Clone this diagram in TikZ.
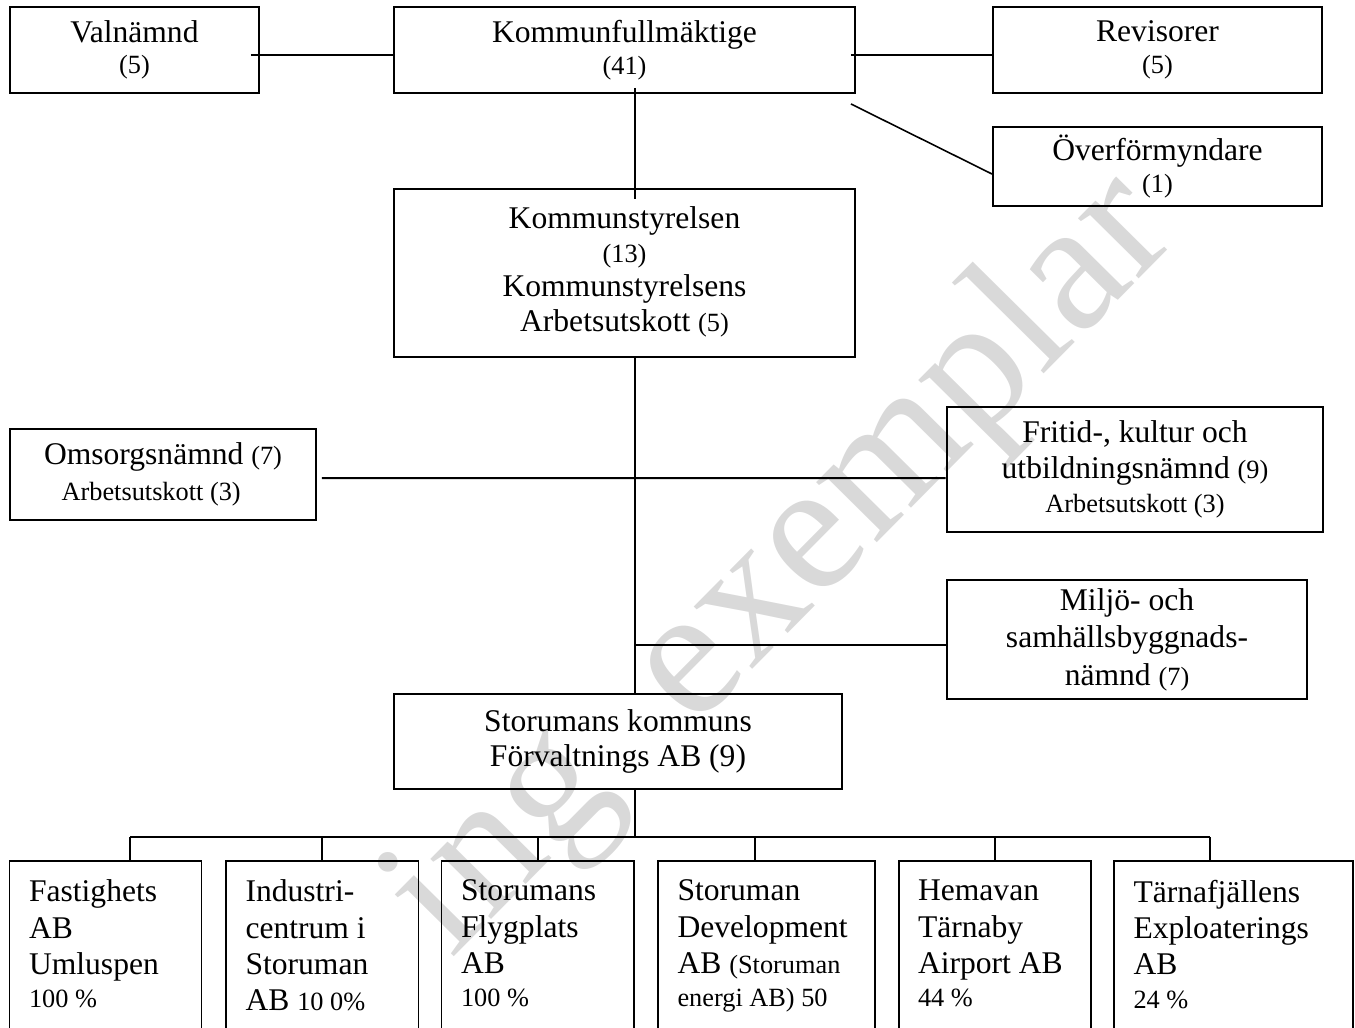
\documentclass[tikz,border=0pt]{standalone}
\usepackage{fontspec}
\setmainfont{Liberation Serif}
\usetikzlibrary{calc}
\newcommand\sm[1]{{\fontsize{10}{11.5}\selectfont #1}}
\tikzset{
  box/.style={draw, line width=0.75pt, inner sep=0pt, align=center, font=\fontsize{12}{13}\selectfont},
  bbox/.style={draw, line width=0.75pt, inner sep=0pt, minimum height=75.62pt},
  btext/.style={anchor=north west, inner sep=0pt, align=left, font=\fontsize{12}{13.8}\selectfont},
  conn/.style={line width=0.75pt},
  wmark/.style={text=black!15, inner sep=0pt, anchor=base west, rotate=45.3, font=\fontsize{70.7}{80}\selectfont}
}
\begin{document}
\begin{tikzpicture}[x=0.38pt,y=-0.38pt]
\useasboundingbox (0,0) rectangle (1355,1027);
\clip (0,0) rectangle (1355,1027);
% watermark
\node[wmark] (wm1) at (451.5,959.7) {ing};
\node[wmark] (wm2) at (692.7,729.9) {exemplar};
% top row
\node[box, minimum width=94.62pt, minimum height=32.68pt] (val) at (134.5,50) {Valnämnd\\[-1pt]\sm{(5)}};
\node[box, minimum width=175.18pt, minimum height=32.68pt] (kf) at (624.5,50) {Kommunfullmäktige\\[-1pt]\sm{(41)}};
\node[box, minimum width=125.02pt, minimum height=32.68pt] (rev) at (1157.5,50) {Revisorer\\[-1pt]\sm{(5)}};
\node[box, minimum width=125.02pt, minimum height=30.02pt] (over) at (1157.5,166.5) {Överförmyndare\\[-1pt]\sm{(1)}};
\node[box, font=\fontsize{12}{12.8}\selectfont, minimum width=175.18pt, minimum height=63.84pt] (ks) at (624.5,273) {Kommunstyrelsen\\\sm{(13)}\\Kommunstyrelsens\\[0.8pt]Arbetsutskott \sm{(5)}\\[-10pt]\mbox{}};
\node[box, minimum width=116.28pt, minimum height=34.58pt] (oms) at (163,474.5) {Omsorgsnämnd \sm{(7)}\\[0.6pt]\sm{Arbetsutskott (3)}\hspace*{9pt}};
\node[box, line width=1.1pt, minimum width=142.88pt, minimum height=47.5pt] (fri) at (1135,469.5) {Fritid-, kultur och\\[0.6pt]utbildningsnämnd \sm{(9)}\\\sm{Arbetsutskott (3)}};
\node[box, minimum width=136.8pt, minimum height=45.22pt] (mil) at (1127,639.5) {Miljö- och\\[1.2pt]samhällsbyggnads-\\[1.2pt]nämnd \sm{(7)}};
\node[box, minimum width=170.24pt, minimum height=36.1pt] (sk) at (618,741.5) {Storumans kommuns\\[0.6pt]Förvaltnings AB (9)};
% bottom boxes
\node[bbox, minimum width=72.96pt] (b1) at (105.5,960.5) {};
\node[bbox, minimum width=73.15pt] (b2) at (322.25,960.5) {};
\node[bbox, minimum width=73.15pt] (b3) at (537.75,960.5) {};
\node[bbox, minimum width=82.46pt] (b4) at (766.5,960.5) {};
\node[bbox, minimum width=72.96pt] (b5) at (994.5,960.5) {};
\node[bbox, minimum width=90.82pt] (b6) at (1233.5,960.5) {};
\node[btext] (t1) at ($(b1.north west)+(7.6pt,-7.4pt)$) {Fastighets\\AB\\Umluspen\\[-1.2pt]\sm{100 \%}};
\node[btext] (t2) at ($(b2.north west)+(7.6pt,-7.4pt)$) {Industri-\\centrum i\\Storuman\\AB \sm{10 0\%}};
\node[btext] (t3) at ($(b3.north west)+(7.6pt,-7.4pt)$) {Storumans\\Flygplats\\AB\\[-1.2pt]\sm{100 \%}};
\node[btext] (t4) at ($(b4.north west)+(7.6pt,-7.4pt)$) {Storuman\\Development\\AB \sm{(Storuman}\\[-1.2pt]\sm{energi AB) 50}};
\node[btext] (t5) at ($(b5.north west)+(7.6pt,-7.4pt)$) {Hemavan\\Tärnaby\\Airport AB\\[-1.2pt]\sm{44 \%}};
\node[btext] (t6) at ($(b6.north west)+(7.6pt,-7.4pt)$) {Tärnafjällens\\Exploaterings\\AB\\[-1.2pt]\sm{24 \%}};
% connector helpers
\coordinate (tr) at (635,0);
\coordinate (bus1) at (130,837);
\coordinate (bus2) at (1210,837);
\coordinate (d4) at (754.5,837);
% connectors
\draw[conn] ($(val.east)+(-3.42pt,-1.9pt)$) -- ($(kf.west)+(0,-1.9pt)$);
\draw[conn] ($(kf.east)+(-1.9pt,-1.9pt)$) -- ($(rev.west)+(0,-1.9pt)$);
\draw[conn, line width=0.6pt] ($(kf.south east)+(-1.9pt,-3.8pt)$) -- ($(over.west)+(0,-2.85pt)$);
\draw[conn] ($(kf.south -| tr)+(0,2.3pt)$) -- ($(ks.north -| tr)+(0,-4.2pt)$);
\draw[conn] (ks.south -| tr) -- (sk.north -| tr);
\draw[conn] (sk.south -| tr) -- (tr |- bus1);
\draw[conn] ($(oms.east)+(1.9pt,-1.33pt)$) -- ($(fri.west)+(0,-3.23pt)$);
\draw[conn] ($(mil.west -| tr)+(0,-2.09pt)$) -- ($(mil.west)+(0,-2.09pt)$);
\draw[conn] (bus1) -- (bus2);
\draw[conn] (bus1) -- (bus1 |- b1.north);
\draw[conn] (b2.north |- bus1) -- (b2.north);
\draw[conn] (b3.north |- bus1) -- (b3.north);
\draw[conn] (d4) -- (d4 |- b4.north);
\draw[conn] (b5.north |- bus1) -- (b5.north);
\draw[conn] (bus2) -- (bus2 |- b6.north);
\end{tikzpicture}
\end{document}
